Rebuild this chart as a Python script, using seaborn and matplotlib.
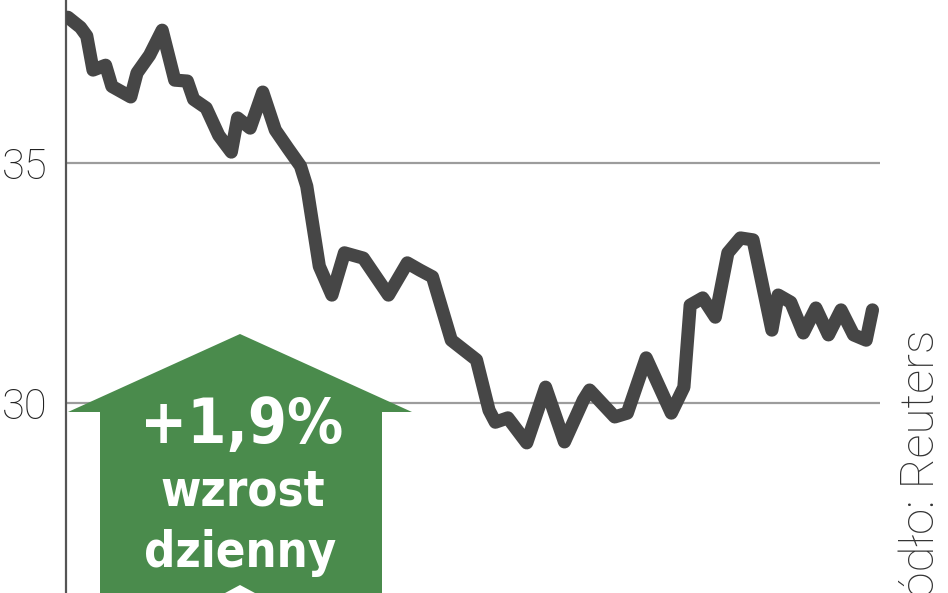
import matplotlib
matplotlib.use("Agg")
import matplotlib.pyplot as plt
from matplotlib.patches import Polygon
import seaborn as sns
import pandas as pd

# dane (dzien sesji, kurs)
dni = [0, 2, 3, 4, 6, 7, 10, 11, 13, 15, 17, 19, 20, 22, 24, 26, 27, 29, 31, 33,
       35, 37, 38, 40, 42, 44, 47, 51, 54, 56, 58, 61, 65, 67, 68, 70, 73, 76, 79, 82,
       83, 87, 89, 92, 96, 98, 99, 101, 103, 105, 107, 109, 112, 113, 115, 117, 119,
       121, 123, 125, 127, 128]
kurs = [38.04, 37.83, 37.65, 36.94, 37.04, 36.60, 36.38, 36.88, 37.25, 37.77,
        36.73, 36.71, 36.33, 36.15, 35.58, 35.23, 35.94, 35.73, 36.48, 35.69,
        35.31, 34.94, 34.52, 32.85, 32.25, 33.13, 33.02, 32.25, 32.92, 32.77,
        32.63, 31.31, 30.90, 29.85, 29.60, 29.69, 29.17, 30.33, 29.19, 30.06,
        30.27, 29.71, 29.79, 30.94, 29.79, 30.33, 32.04, 32.19, 31.79, 33.13,
        33.44, 33.40, 31.52, 32.25, 32.10, 31.46, 31.98, 31.42, 31.94, 31.42,
        31.31, 31.94]
poziomy = [30, 35]
etykiety = ["30", "35"]
zmiana = "+1,9%"
opis = ["wzrost", "dzienny"]
zrodlo = "źródło: Reuters"

df = pd.DataFrame({"dzien": dni, "kurs": kurs})

sns.set_style("white")
plt.rcParams["font.family"] = ["Roboto", "DejaVu Sans"]

W, H = 948, 593
fig = plt.figure(figsize=(W / 100, H / 100), dpi=100)
ax = fig.add_axes([66 / W, 0, 814 / W, 1])


def px(x, y):
    return (x / W, 1 - y / H)


sns.lineplot(data=df, x="dzien", y="kurs", ax=ax, color="#464646", linewidth=9.5,
             solid_joinstyle="round", solid_capstyle="round", zorder=4)

ax.set_xlim(-0.3, 129.2)
ax.set_ylim(26.04, 38.40)
ax.set_yticks(poziomy)
ax.set_yticklabels(etykiety, fontsize=30, fontweight="light", color="#222222")
ax.set_xticks([])
ax.set_xlabel("")
ax.set_ylabel("")
ax.tick_params(axis="y", length=0, pad=13)
ax.yaxis.grid(True, color="#9c9c9c", linewidth=1.6)
ax.set_axisbelow(True)
for s in ["top", "right", "bottom"]:
    ax.spines[s].set_visible(False)
ax.spines["left"].set_color("#555555")
ax.spines["left"].set_linewidth(1.6)

# zielona strzalka
green = "#4a8b4c"
strzalka = [px(240, 334), px(412, 412), px(382, 412), px(382, 600),
            px(100, 600), px(100, 412), px(68, 412)]
fig.patches.append(Polygon(strzalka, closed=True, transform=fig.transFigure,
                           facecolor=green, edgecolor="none", zorder=5))
grot = [px(240, 585), px(268, 600), px(212, 600)]
fig.patches.append(Polygon(grot, closed=True, transform=fig.transFigure,
                           facecolor="white", edgecolor="none", zorder=6))

narrow = ["DejaVu Sans"]
fig.text(*px(242, 443), zmiana, ha="center", va="baseline", color="white",
         fontsize=45, fontweight="bold", fontstretch="condensed", family=narrow, zorder=7)
fig.text(*px(243, 505), opis[0], ha="center", va="baseline", color="white",
         fontsize=35, fontweight="bold", fontstretch="condensed", family=narrow, zorder=7)
fig.text(*px(240, 567), opis[1], ha="center", va="baseline", color="white",
         fontsize=35, fontweight="bold", fontstretch="condensed", family=narrow, zorder=7)

fig.text(*px(921, 330), zrodlo, rotation=90, ha="center", va="top",
         fontsize=34, fontweight="light", color="#333333")

fig.savefig("out.png", dpi=100, facecolor="white")
